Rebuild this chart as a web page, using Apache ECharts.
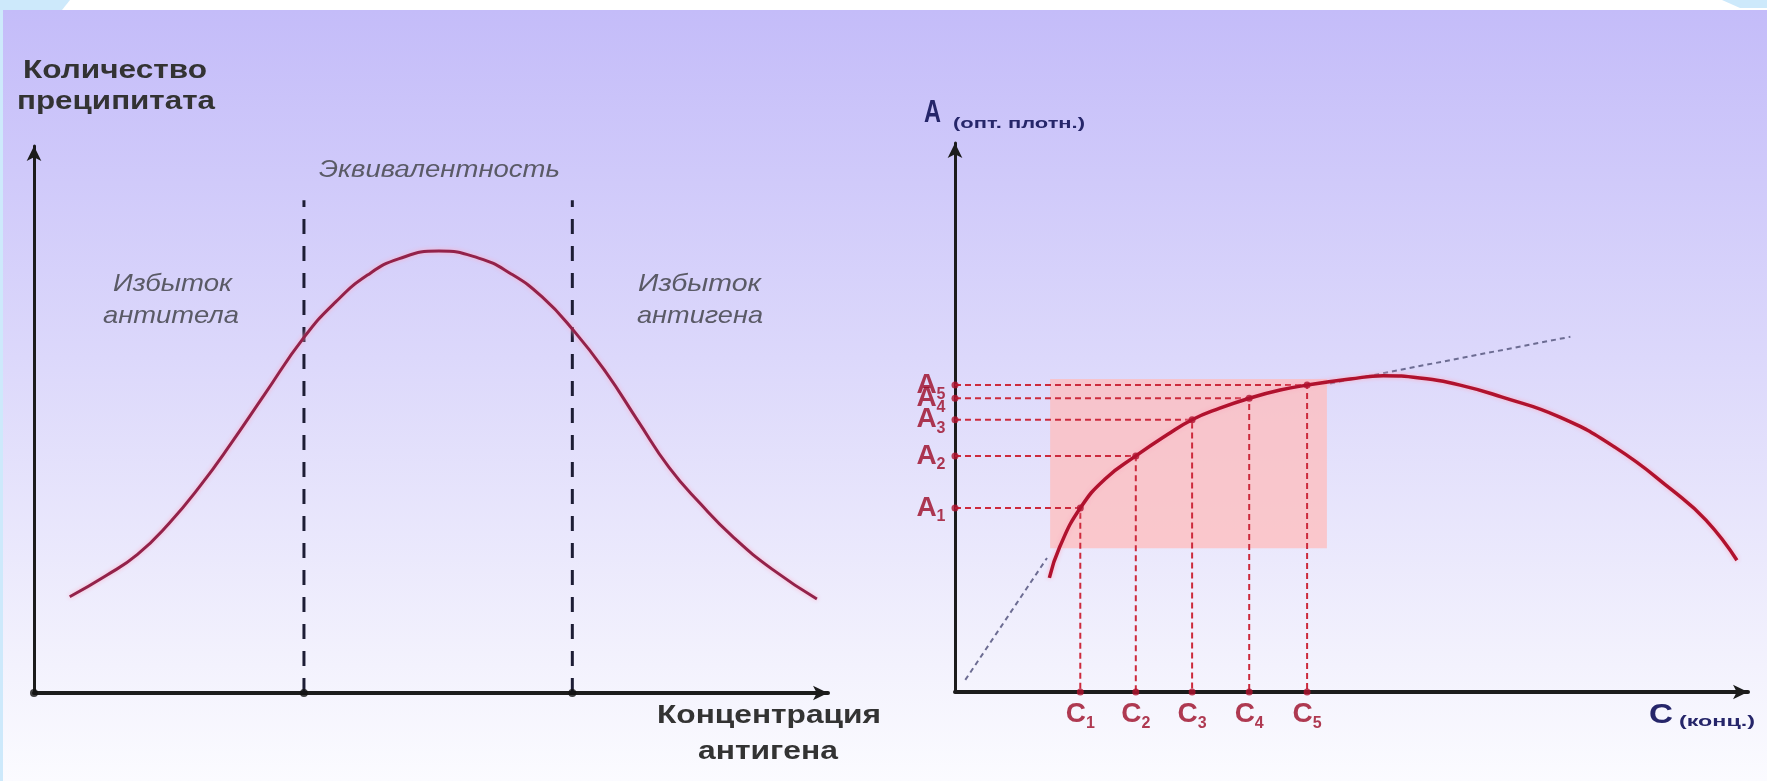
<!DOCTYPE html>
<html>
<head>
<meta charset="utf-8">
<script src="https://cdn.jsdelivr.net/npm/echarts@6/dist/echarts.min.js"></script>
<style>
html, body { margin: 0; padding: 0; background: #fff; }
#main { width: 1767px; height: 781px; }
</style>
</head>
<body>
<div id="main"></div>
<script>
// left panel: precipitate vs antigen concentration
var leftConc    = [4.5, 9, 13, 17, 21, 25, 29, 34, 38, 42, 46, 51, 56, 60, 64, 68, 72, 76, 80, 84, 88, 93, 98.6];
var leftPrecip  = [17.6, 21.4, 25.3, 31.0, 38.0, 46.0, 54.5, 65.0, 71.5, 76.4, 79.4, 80.8, 79.5, 76.7, 72.4, 66.2, 58.7, 49.9, 41.2, 34.5, 28.6, 22.6, 17.2];
var eqBounds    = [34.0, 67.8];
var eqTop       = 90.1;
var leftAxisDots = [0, 34.0, 67.8];

// right panel: optical density vs concentration
var rightConc   = [11.9, 13.2, 15.8, 19.0, 22.8, 26.7, 29.9, 33.4, 37.1, 41.0, 44.4, 49.8, 54.0, 58.6, 63.7, 69.0, 76.2, 83.2, 90.4, 94.7, 98.6];
var rightAbs    = [20.8, 26.4, 33.5, 38.9, 43.0, 46.8, 49.6, 51.7, 53.5, 55.0, 55.9, 57.0, 57.6, 57.2, 55.9, 53.7, 50.1, 44.6, 36.8, 31.3, 24.0];
var sampleConc  = [15.8, 22.8, 29.9, 37.1, 44.4];
var sampleAbs   = [33.5, 43.0, 49.6, 53.5, 55.9];
var lowTangent  = [[1.3, 2.2], [11.6, 24.4]];
var highTangent = [[47.3, 56.2], [77.6, 64.7]];
var rectConc    = [12.0, 46.9];
var rectAbs     = [26.2, 57.0];

var RED = '#b0122e';
var LABEL_RED = '#9c0a26';
var NAVY = '#26266a';
var FONT = '"Liberation Sans", Arial, sans-serif';

function zip(xs, ys) {
    var out = [];
    for (var i = 0; i < xs.length; i++) out.push([xs[i], ys[i]]);
    return out;
}

var ctx = document.createElement('canvas').getContext('2d');
// text stretched to the width it has in the picture
function stretched(str, left, midY, width, font, color) {
    ctx.font = font;
    var w = ctx.measureText(str).width;
    return {
        type: 'text', x: left, y: midY, scaleX: width / w, z: 20, silent: true,
        style: { text: str, font: font, fill: color, align: 'left', verticalAlign: 'middle',
                 textAlign: 'left', textVerticalAlign: 'middle' }
    };
}

function axis(gridIndex, width) {
    return {
        type: 'value', gridIndex: gridIndex, min: 0, max: 100,
        axisLine: { show: true, onZero: false, symbol: ['none', 'arrow'], symbolSize: [11, 15],
                    lineStyle: { color: '#1c1c1c', width: width } },
        axisTick: { show: false }, axisLabel: { show: false }, splitLine: { show: false }
    };
}

var series = [];

// left
series.push({
    type: 'line', xAxisIndex: 0, yAxisIndex: 0, data: zip(leftConc, leftPrecip),
    smooth: true, showSymbol: false, z: 5,
    lineStyle: { color: '#93224a', width: 3, shadowColor: 'rgba(255,170,195,0.9)', shadowBlur: 4 }
});
eqBounds.forEach(function (b) {
    series.push({
        type: 'line', xAxisIndex: 0, yAxisIndex: 0, data: [[b, 0], [b, eqTop]], showSymbol: false, z: 4,
        lineStyle: { color: '#1d1d35', width: 3, type: [15, 12] }
    });
});
series.push({
    type: 'scatter', xAxisIndex: 0, yAxisIndex: 0, data: leftAxisDots.map(function (x) { return [x, 0]; }),
    symbolSize: 8, itemStyle: { color: '#111' }, z: 6
});

// right
series.push({
    type: 'line', xAxisIndex: 1, yAxisIndex: 1, data: [[rectConc[0], rectAbs[0]]], showSymbol: false,
    lineStyle: { opacity: 0 }, z: 1,
    markArea: { silent: true, itemStyle: { color: 'rgba(255,188,188,0.75)' },
                data: [[{ coord: [rectConc[0], rectAbs[1]] }, { coord: [rectConc[1], rectAbs[0]] }]] }
});
sampleConc.forEach(function (c, i) {
    series.push({
        type: 'line', xAxisIndex: 1, yAxisIndex: 1, data: [[0, sampleAbs[i]], [c, sampleAbs[i]], [c, 0]],
        showSymbol: false, z: 3, lineStyle: { color: '#cc2a3c', width: 2, type: [6, 4] }
    });
});
[lowTangent, highTangent].forEach(function (seg) {
    series.push({
        type: 'line', xAxisIndex: 1, yAxisIndex: 1, data: seg, showSymbol: false, z: 3,
        lineStyle: { color: '#6c6c92', width: 2, type: [5, 4] }
    });
});
series.push({
    type: 'line', xAxisIndex: 1, yAxisIndex: 1, data: zip(rightConc, rightAbs),
    smooth: true, showSymbol: false, z: 5,
    lineStyle: { color: RED, width: 3.5, shadowColor: 'rgba(255,170,190,0.9)', shadowBlur: 4 }
});
series.push({
    type: 'scatter', xAxisIndex: 1, yAxisIndex: 1, data: zip(sampleConc, sampleAbs),
    symbolSize: 7, itemStyle: { color: RED }, z: 6
});

var rich = {
    a: { fontFamily: FONT, fontWeight: 'bold', fontSize: 28, color: LABEL_RED, lineHeight: 34, verticalAlign: 'middle' },
    s: { fontFamily: FONT, fontWeight: 'bold', fontSize: 16, color: LABEL_RED, lineHeight: 34, verticalAlign: 'bottom' }
};
series.push({
    type: 'scatter', xAxisIndex: 1, yAxisIndex: 1, symbolSize: 7, itemStyle: { color: RED }, z: 7,
    data: sampleAbs.map(function (a, i) { return { value: [0, a], label: { formatter: '{a|A}{s|' + (i + 1) + '}' } }; }),
    label: { show: true, position: 'left', distance: 6, rich: rich }
});
series.push({
    type: 'scatter', xAxisIndex: 1, yAxisIndex: 1, symbolSize: 7, itemStyle: { color: RED }, z: 7,
    data: sampleConc.map(function (c, i) { return { value: [c, 0], label: { formatter: '{a|C}{s|' + (i + 1) + '}' } }; }),
    label: { show: true, position: 'bottom', distance: 2, rich: rich }
});

var graphic = [
    { type: 'rect', z: -10, silent: true, shape: { x: 0, y: 0, width: 1767, height: 781 }, style: { fill: '#ffffff' } },
    { type: 'rect', z: -9, silent: true, shape: { x: 3, y: 10, width: 1764, height: 771 },
      style: { fill: new echarts.graphic.LinearGradient(0, 0, 0, 1, [
          { offset: 0, color: '#c4bcf9' },
          { offset: 0.45, color: '#dcd8fb' },
          { offset: 0.85, color: '#f3f2fd' },
          { offset: 1, color: '#fbfbff' }
      ]) } },
    { type: 'polygon', z: -8, silent: true, shape: { points: [[0, 0], [70, 0], [62, 10], [0, 10]] }, style: { fill: '#cde9fb' } },
    { type: 'polygon', z: -8, silent: true, shape: { points: [[1722, 0], [1767, 0], [1767, 8], [1740, 8]] }, style: { fill: '#cde9fb' } },
    { type: 'rect', z: -8, silent: true, shape: { x: 0, y: 10, width: 3, height: 771 }, style: { fill: '#cde9fb' } },

    stretched('Количество', 23, 71, 184, 'bold 25px ' + FONT, '#333333'),
    stretched('преципитата', 17, 102, 198, 'bold 25px ' + FONT, '#333333'),
    stretched('Эквивалентность', 319, 171, 241, 'italic 23px ' + FONT, '#5a5a66'),
    stretched('Избыток', 113, 284, 119, 'italic 24px ' + FONT, '#5a5a66'),
    stretched('антитела', 103, 316, 136, 'italic 24px ' + FONT, '#5a5a66'),
    stretched('Избыток', 638, 284, 123, 'italic 24px ' + FONT, '#5a5a66'),
    stretched('антигена', 637, 316, 126, 'italic 24px ' + FONT, '#5a5a66'),
    stretched('Концентрация', 657, 716, 224, 'bold 26px ' + FONT, '#333333'),
    stretched('антигена', 698, 752, 140, 'bold 26px ' + FONT, '#333333'),
    stretched('A', 924, 113, 17, 'bold 31px ' + FONT, NAVY),
    stretched('(опт. плотн.)', 953, 124, 132, 'bold 15px ' + FONT, NAVY),
    stretched('C', 1649, 715, 24, 'bold 28px ' + FONT, NAVY),
    stretched('(конц.)', 1679, 722, 76, 'bold 14px ' + FONT, NAVY)
];

var chart = echarts.init(document.getElementById('main'));
chart.setOption({
    animation: false,
    grid: [
        { left: 34, top: 146, width: 794, height: 547 },
        { left: 955, top: 143, width: 793, height: 549 }
    ],
    xAxis: [axis(0, 4), axis(1, 4)],
    yAxis: [axis(0, 3), axis(1, 3)],
    series: series,
    graphic: graphic
});
</script>
</body>
</html>
